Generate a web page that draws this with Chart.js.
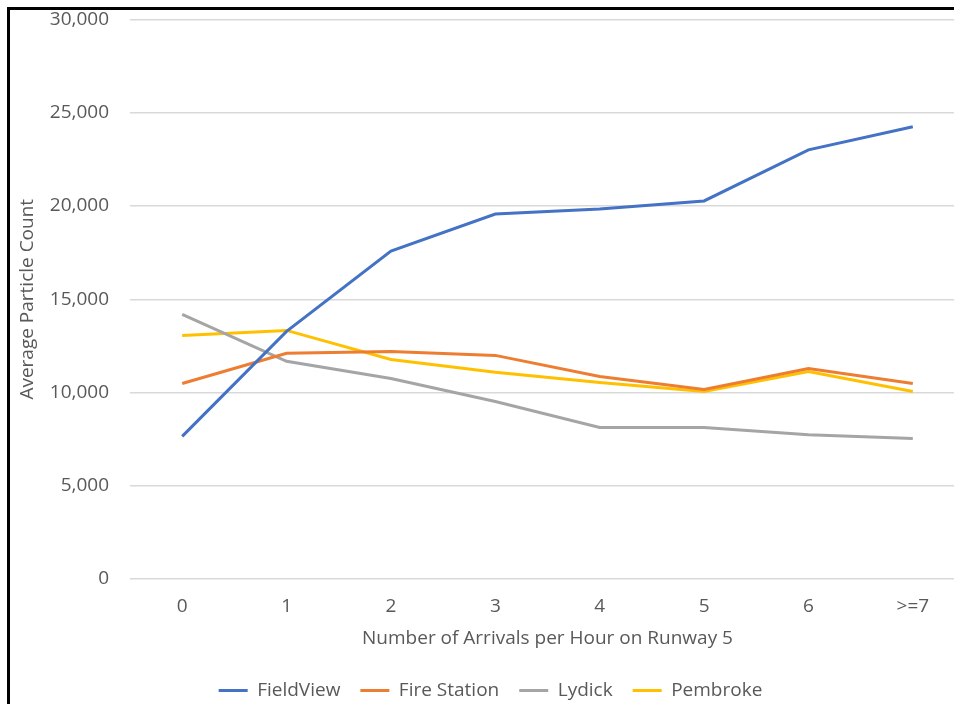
<!DOCTYPE html>
<html>
<head>
<meta charset="utf-8">
<script src="https://cdn.jsdelivr.net/npm/chart.js@4/dist/chart.umd.min.js"></script>
<style>
  html, body { margin: 0; padding: 0; background: #fff; overflow: hidden; width: 954px; height: 704px; }
  #frame { position: absolute; left: 7px; top: 7px; border-left: 3px solid #000; border-top: 3px solid #000; }
  canvas { display: block; }
</style>
</head>
<body>
<div id="frame"><canvas id="lineChart" width="956" height="700"></canvas></div>
<script>
// arrivals per hour on runway 5
let categories = ['0', '1', '2', '3', '4', '5', '6', '>=7'];

// average particle counts
let fieldView   = [7650, 13280, 17580, 19570, 19840, 20270, 23010, 24250];
let fireStation = [10480, 12100, 12200, 11990, 10860, 10160, 11290, 10480];
let lydick      = [14190, 11670, 10750, 9520, 8120, 8120, 7740, 7530];
let pembroke    = [13060, 13330, 11770, 11080, 10540, 10050, 11130, 10050];

let yTicks = [0, 5000, 10000, 15000, 20000, 25000, 30000];

let fontFamily = "'Open Sans', 'Noto Sans', sans-serif";
let textColor = '#595959';

function serie(label, data, color) {
    return {
        label: label,
        data: data,
        borderColor: color,
        backgroundColor: color,
        borderWidth: 3,
        pointRadius: 0,
        pointHoverRadius: 0,
        tension: 0,
        fill: false
    };
}

var ctx = document.getElementById('lineChart');

var lineChart = new Chart(ctx, {
    type: 'line',
    data: {
        labels: categories,
        datasets: [
            serie('FieldView', fieldView, '#4472C4'),
            serie('Fire Station', fireStation, '#ED7D31'),
            serie('Lydick', lydick, '#A5A5A5'),
            serie('Pembroke', pembroke, '#FFC000')
        ]
    },
    options: {
        responsive: false,
        animation: false,
        layout: { padding: { top: 0, right: 1, left: 6, bottom: 0 } },
        plugins: {
            tooltip: { enabled: false },
            legend: {
                position: 'bottom',
                labels: {
                    usePointStyle: true,
                    pointStyle: 'line',
                    pointStyleWidth: 29,
                    boxHeight: 3,
                    padding: 20,
                    color: textColor,
                    font: { family: fontFamily, size: 19 }
                }
            }
        },
        scales: {
            x: {
                offset: true,
                grid: { display: false },
                border: { display: false },
                ticks: {
                    color: textColor,
                    padding: 10,
                    font: { family: fontFamily, size: 19, lineHeight: 1 }
                },
                title: {
                    display: true,
                    text: 'Number of Arrivals per Hour on Runway 5',
                    color: textColor,
                    padding: { top: 3, bottom: 13 },
                    font: { family: fontFamily, size: 19, lineHeight: 1 }
                }
            },
            y: {
                min: 0,
                max: 30000,
                afterBuildTicks: function (axis) {
                    axis.ticks = yTicks.map(function (v) { return { value: v }; });
                },
                afterFit: function (axis) {
                    axis.width = 114;
                },
                // invisible tick marks stand in for the label gap
                grid: { color: '#D9D9D9', lineWidth: 1.5, drawTicks: true, tickLength: 21, tickColor: 'rgba(0,0,0,0)' },
                border: { display: false },
                ticks: {
                    color: textColor,
                    padding: 0,
                    font: { family: fontFamily, size: 19, lineHeight: 1 },
                    callback: function (v) { return v.toLocaleString('en-US'); }
                },
                title: {
                    display: true,
                    text: 'Average Particle Count',
                    color: textColor,
                    padding: { top: 0, bottom: 6 },
                    font: { family: fontFamily, size: 19 }
                }
            }
        }
    }
});
</script>
</body>
</html>
